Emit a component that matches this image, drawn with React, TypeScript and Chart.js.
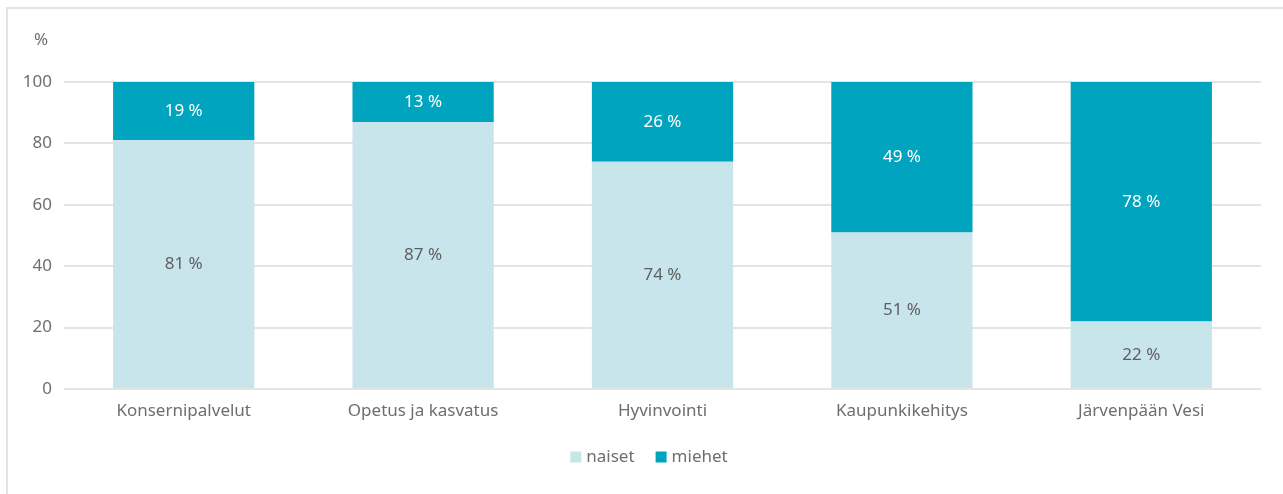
import React, { useEffect, useRef } from "react";
import { Chart, registerables } from "chart.js";

Chart.register(...registerables);

const categories = ["Konsernipalvelut", "Opetus ja kasvatus", "Hyvinvointi", "Kaupunkikehitys", "Järvenpään Vesi"];
const naiset = [81, 87, 74, 51, 22];
const miehet = [19, 13, 26, 49, 78];
const yTicks = [0, 20, 40, 60, 80, 100];
const seriesNames = ["naiset", "miehet"];
const unitLabel = "%";

const FONT = "'Noto Sans', sans-serif";
const LIGHT = "#c8e5eb";
const DARK = "#00a4bf";
const TEXT = "#6e6e6e";

const labelPlugin = {
  id: "barLabels",
  afterDatasetsDraw(chart: any) {
    const ctx = chart.ctx;
    ctx.save();
    ctx.font = `17px ${FONT}`;
    ctx.textAlign = "center";
    ctx.textBaseline = "middle";
    chart.data.datasets.forEach((ds: any, di: number) => {
      const meta = chart.getDatasetMeta(di);
      meta.data.forEach((bar: any, i: number) => {
        const v = ds.data[i];
        const y = (bar.y + bar.base) / 2;
        ctx.fillStyle = di === 0 ? "#5f5f5f" : "#ffffff";
        ctx.fillText(`${v} %`, bar.x, y);
      });
    });
    // unit label
    ctx.fillStyle = TEXT;
    ctx.textAlign = "center";
    ctx.fillText(unitLabel, 41, 40);
    // legend
    const box = 11, gapText = 5, gapItem = 21;
    const items = chart.data.datasets.map((ds: any) => ({
      label: ds.label,
      color: ds.backgroundColor,
      w: ctx.measureText(ds.label).width,
    }));
    const total = items.reduce((a: number, it: any) => a + box + gapText + it.w, 0) + gapItem * (items.length - 1);
    let x = 649 - total / 2;
    const cy = 457;
    ctx.textAlign = "left";
    items.forEach((it: any) => {
      ctx.fillStyle = it.color;
      ctx.fillRect(x, cy - box / 2, box, box);
      x += box + gapText;
      ctx.fillStyle = TEXT;
      ctx.fillText(it.label, x, cy);
      x += it.w + gapItem;
    });
    ctx.restore();
  },
};

export default function App() {
  const ref = useRef<HTMLCanvasElement>(null);
  useEffect(() => {
    if (!ref.current) return;
    const chart = new Chart(ref.current, {
      type: "bar",
      data: {
        labels: categories,
        datasets: [
          { label: seriesNames[0], data: naiset, backgroundColor: LIGHT, barPercentage: 0.59, categoryPercentage: 1 },
          { label: seriesNames[1], data: miehet, backgroundColor: DARK, barPercentage: 0.59, categoryPercentage: 1 },
        ],
      },
      options: {
        responsive: false,
        animation: false,
        layout: { padding: { left: 0, right: 22, top: 82, bottom: 65 } },
        scales: {
          x: {
            stacked: true,
            grid: { display: false, drawTicks: false },
            border: { display: false },
            ticks: { color: TEXT, font: { family: FONT, size: 17 }, padding: 12 },
            afterFit: (s: any) => { s.height = 40; },
          },
          y: {
            stacked: true,
            min: 0,
            max: 100,
            afterBuildTicks: (s: any) => { s.ticks = yTicks.map((v) => ({ value: v })); },
            grid: { color: "#e4e4e4", lineWidth: 2, drawTicks: false },
            border: { display: false },
            ticks: { color: TEXT, font: { family: FONT, size: 17 }, padding: 12 },
            afterFit: (s: any) => { s.width = 64; },
          },
        },
        plugins: {
          legend: { display: false },
          tooltip: { enabled: false },
        },
      },
      plugins: [labelPlugin],
    });
    return () => chart.destroy();
  }, []);
  return (
    <div style={{ position: "fixed", left: 0, top: 0, width: 1283, height: 494, background: "#fff" }}>
      <div style={{ position: "absolute", left: 6, top: 7, right: -10, bottom: -10, border: "2px solid #e3e3e3" }} />
      <canvas ref={ref} width={1283} height={494} style={{ position: "absolute", left: 0, top: 0 }} />
    </div>
  );
}
